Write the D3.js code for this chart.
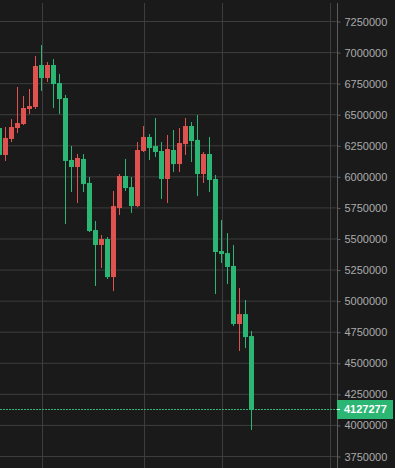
<!DOCTYPE html>
<html>
<head>
<meta charset="utf-8">
<script src="https://cdn.jsdelivr.net/npm/d3@7"></script>
<style>
  html, body { margin: 0; padding: 0; background: #1a1a1a; overflow: hidden; }
  svg { display: block; }
</style>
</head>
<body>
<svg id="chart" width="395" height="468"></svg>
<script>
// candle index (-1 = partly clipped first candle)
const candleIndex = [-1,0,1,2,3,4,5,6,7,8,9,10,11,12,13,14,15,16,17,18,19,20,21,22,23,24,25,26,27,28,29,30,31,32,33,34,35,36,37,38,39,40,41];
const opens  = [6393000,6176000,6305000,6393000,6425000,6546000,6562000,6900000,6795000,6900000,6755000,6634000,6136000,6079000,6144000,5951000,5572000,5452000,5500000,5194000,5749000,6007000,5918000,5765000,6208000,6321000,6248000,6208000,5983000,6216000,6103000,6264000,6409000,6297000,6023000,6184000,5983000,5403000,5387000,5283000,4816000,4896000,4719000];
const highs  = [6401000,6401000,6465000,6723000,6651000,6707000,6972000,7061000,6924000,6948000,6828000,6659000,6248000,6184000,6184000,5999000,5645000,5532000,5516000,5886000,6023000,6144000,5999000,6280000,6409000,6345000,6474000,6280000,6337000,6377000,6393000,6474000,6441000,6498000,6200000,6321000,6015000,5653000,5548000,5452000,5106000,5009000,4760000];
const lows   = [6160000,6128000,6280000,6353000,6417000,6506000,6546000,6691000,6763000,6554000,6506000,5621000,5878000,5790000,5878000,5556000,5122000,5267000,5178000,5081000,5693000,5886000,5709000,5757000,6200000,6136000,6160000,5822000,5790000,6039000,6039000,6176000,6119000,5846000,5951000,5878000,5057000,5307000,5138000,4800000,4599000,4623000,3963000];
const closes = [6176000,6313000,6401000,6433000,6554000,6570000,6892000,6795000,6900000,6747000,6626000,6128000,6079000,6152000,5942000,5564000,5452000,5500000,5194000,5765000,6007000,5910000,5765000,6216000,6321000,6232000,6200000,5983000,6224000,6103000,6272000,6409000,6288000,6023000,6184000,5975000,5395000,5379000,5275000,4816000,4896000,4711000,4127277];
const yTicks = [3750000,4000000,4250000,4500000,4750000,5000000,5250000,5500000,5750000,6000000,6250000,6500000,6750000,7000000,7250000];
const xGridIndex = [6, 23, 36, 54];
const lastPrice = 4127277;

const UP = "#e0524f", DOWN = "#2cb673";
const svg = d3.select("#chart");
const W = 395, H = 468, axisX = 337.5, plotTop = 3;

const x = d3.scaleLinear().domain([-1, 41]).range([-0.5, 251.5]);
const y = d3.scaleLinear().domain([3750000, 7250000]).range([456.5, 21.5]);

svg.append("rect").attr("width", W).attr("height", H).attr("fill", "#1a1a1a");

svg.append("defs").append("clipPath").attr("id", "plot")
  .append("rect").attr("x", 0).attr("y", plotTop).attr("width", axisX).attr("height", H - plotTop);

// horizontal grid
svg.append("g").selectAll("line").data(yTicks).join("line")
  .attr("x1", 0).attr("x2", axisX)
  .attr("y1", d => y(d)).attr("y2", d => y(d))
  .attr("stroke", "#3d3d3d").attr("stroke-width", 1);

// vertical grid
svg.append("g").selectAll("line").data(xGridIndex).join("line")
  .attr("x1", d => x(d) + 1).attr("x2", d => x(d) + 1)
  .attr("y1", plotTop).attr("y2", H)
  .attr("stroke", "#3d3d3d").attr("stroke-width", 1);

// right axis
const axis = d3.axisRight(y).tickValues(yTicks).tickSize(3).tickPadding(4).tickFormat(d3.format("d"));
const ag = svg.append("g").attr("transform", `translate(${axisX},0)`).call(axis);
ag.select(".domain").attr("stroke", "#5c5c5c").attr("d", `M0,${plotTop}V${H}`);
ag.selectAll(".tick line").attr("stroke", "#5c5c5c");
ag.selectAll(".tick text").attr("fill", "#ababab")
  .attr("font-family", "'Liberation Sans', Arial, sans-serif").attr("font-size", 11);

const data = candleIndex.map((k, i) => ({k, o: opens[i], h: highs[i], l: lows[i], c: closes[i]}));

const cg = svg.append("g").attr("clip-path", "url(#plot)");
// wicks
cg.selectAll("rect.wick").data(data).join("rect").attr("class", "wick")
  .attr("x", d => x(d.k) - 0.5).attr("width", 1)
  .attr("y", d => y(d.h)).attr("height", d => y(d.l) - y(d.h))
  .attr("fill", d => d.c >= d.o ? UP : DOWN);
// bodies
cg.selectAll("rect.body").data(data).join("rect").attr("class", "body")
  .attr("x", d => x(d.k) - 2.5).attr("width", 5)
  .attr("y", d => y(Math.max(d.o, d.c)))
  .attr("height", d => Math.max(1, Math.abs(y(d.o) - y(d.c))))
  .attr("fill", d => d.c >= d.o ? UP : DOWN);

// last price line
const py = Math.floor(y(lastPrice)) + 0.5;
svg.append("line").attr("x1", 0).attr("x2", axisX)
  .attr("y1", py).attr("y2", py)
  .attr("stroke", DOWN).attr("stroke-width", 1).attr("stroke-dasharray", "2,1");

// price label
svg.append("rect").attr("x", 337).attr("y", py - 9.5).attr("width", 56).attr("height", 19).attr("fill", DOWN);
svg.append("line").attr("x1", 337).attr("x2", 340).attr("y1", py).attr("y2", py).attr("stroke", "#ffffff");
svg.append("text").attr("x", 344).attr("y", py).attr("dy", "0.35em")
  .attr("fill", "#ffffff").attr("font-weight", "bold")
  .attr("font-family", "'Liberation Sans', Arial, sans-serif").attr("font-size", 11)
  .text(d3.format("d")(lastPrice));
</script>
</body>
</html>
